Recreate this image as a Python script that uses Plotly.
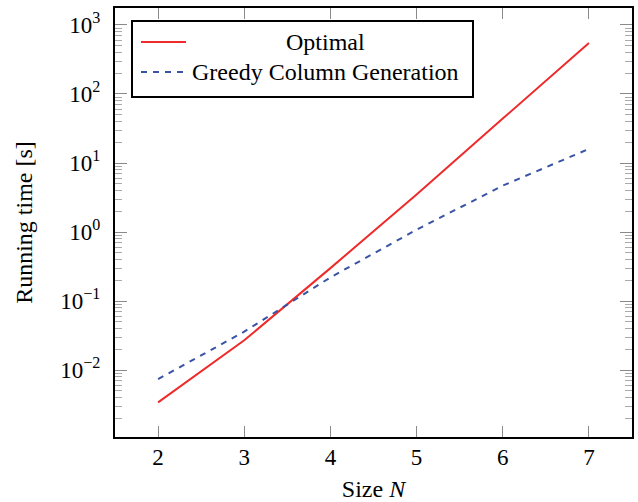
import plotly.graph_objects as go

sizes = [2, 3, 4, 5, 6, 7]
optimal = [0.0034, 0.027, 0.30, 3.5, 44, 550]
greedy = [0.0074, 0.036, 0.22, 1.08, 4.7, 16]
series_names = ["Optimal", "Greedy Column Generation"]
x_title = "Size <i>N</i>"
y_title = "Running time [s]"
decades = [-2, -1, 0, 1, 2, 3]
y_tick_text = ["10<sup>\u2212%d</sup>" % -d if d < 0 else "10<sup>%d</sup>" % d for d in decades]

RED = "#ee2a2a"
BLUE = "#3a53a4"
FONT = "Liberation Serif, Times New Roman, serif"
DASH = "6px,6px"

W, H = 638, 502
ML, MR, MT, MB = 115, 6, 8, 65
PW, PH = W - ML - MR, H - MT - MB


def px(x):
    return (x - ML) / PW


def py(y):
    return (H - MB - y) / PH


major_vals = [10.0 ** d for d in decades]
minor_vals = [m * 10.0 ** d for d in [-3] + decades for m in range(2, 10)]

fig = go.Figure()
fig.add_trace(go.Scatter(x=sizes, y=optimal, mode="lines", name=series_names[0],
                         line=dict(color=RED, width=2)))
fig.add_trace(go.Scatter(x=sizes, y=greedy, mode="lines", name=series_names[1],
                         line=dict(color=BLUE, width=2, dash=DASH)))

axis_common = dict(
    showline=True, linecolor="black", linewidth=2, mirror="ticks",
    ticks="inside", tickcolor="#8a8a8a", tickwidth=1.3, showgrid=False, zeroline=False,
    tickfont=dict(family=FONT, size=23, color="black"), automargin=False,
)

fig.update_xaxes(range=[1.5, 7.5], tickvals=sizes, ticklen=11, ticklabelstandoff=-2,
                 title=dict(text=x_title, font=dict(family=FONT, size=24, color="black"), standoff=20),
                 **axis_common)
fig.update_yaxes(type="log", range=[-2.97, 3.246], tickvals=major_vals, ticktext=y_tick_text,
                 ticklen=12, ticklabelstandoff=8,
                 minor=dict(ticks="inside", ticklen=7, tickcolor="#aaaaaa", tickwidth=1,
                            showgrid=False, tickvals=minor_vals),
                 title=dict(text=y_title, font=dict(family=FONT, size=24, color="black"), standoff=21),
                 **axis_common)

# legend box (drawn manually to mimic centered legend text)
shapes = [
    dict(type="rect", xref="paper", yref="paper", x0=px(132), x1=px(473), y0=py(97), y1=py(21),
         line=dict(color="black", width=2), fillcolor="white", layer="above"),
    dict(type="line", xref="paper", yref="paper", x0=px(141), x1=px(186), y0=py(42), y1=py(42),
         line=dict(color=RED, width=2), layer="above"),
    dict(type="line", xref="paper", yref="paper", x0=px(141), x1=px(184), y0=py(72), y1=py(72),
         line=dict(color=BLUE, width=2, dash=DASH), layer="above"),
]
annotations = [
    dict(xref="paper", yref="paper", x=px(325.5), y=py(42), text=series_names[0], showarrow=False,
         xanchor="center", yanchor="middle", font=dict(family=FONT, size=24, color="black")),
    dict(xref="paper", yref="paper", x=px(325.5), y=py(72), text=series_names[1], showarrow=False,
         xanchor="center", yanchor="middle", font=dict(family=FONT, size=24, color="black")),
]

fig.update_layout(
    width=W, height=H, margin=dict(l=ML, r=MR, t=MT, b=MB, autoexpand=False),
    paper_bgcolor="white", plot_bgcolor="white", showlegend=False,
    shapes=shapes, annotations=annotations,
    font=dict(family=FONT, color="black"),
)

fig.write_html("out.html", config={"displayModeBar": False},
               post_script="document.body.style.margin='0';")
